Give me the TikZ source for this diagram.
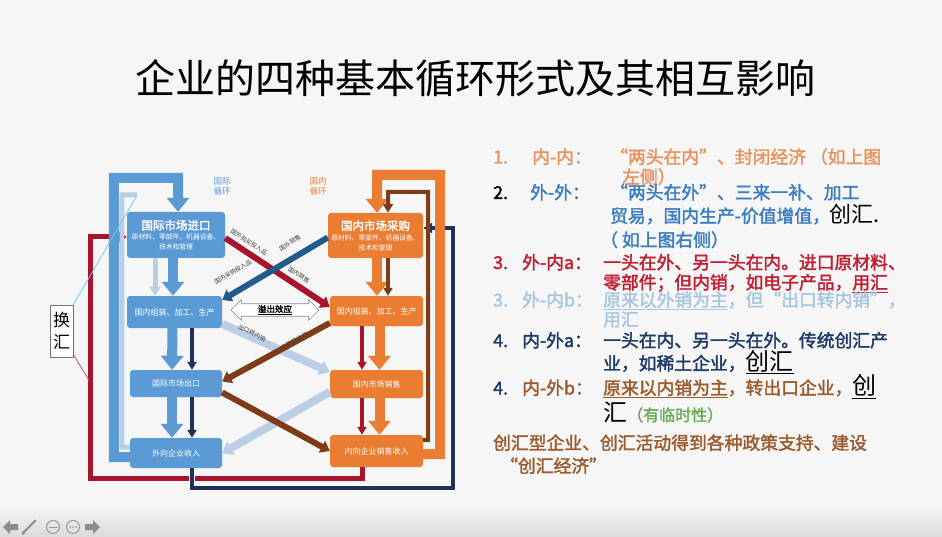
\documentclass[tikz,border=0pt]{standalone}
\usepackage{fontspec}
\setmainfont{Noto Sans CJK SC}
\newfontfamily\bcjk[FakeBold=2]{Noto Sans CJK SC}
\usetikzlibrary{arrows.meta,shapes.arrows}
\makeatletter\providecommand\tikzscope@linewidth{0.4pt}\makeatother
\definecolor{bbox}{HTML}{5B9BD5}
\definecolor{obox}{HTML}{EB7D33}
\definecolor{lite}{HTML}{BACFE3}
\definecolor{navy}{HTML}{1F2F5E}
\definecolor{dblue}{HTML}{215A8C}
\definecolor{dred}{HTML}{A8142B}
\definecolor{brn}{HTML}{7E3B17}
\definecolor{tor}{HTML}{E8935E}
\definecolor{tbl}{HTML}{3C7DC0}
\definecolor{tre}{HTML}{C21E32}
\definecolor{tlb}{HTML}{A9C6DF}
\definecolor{tnv}{HTML}{1F3A68}
\definecolor{tbr}{HTML}{9C5B2E}
\definecolor{tgr}{HTML}{6BAA55}
\definecolor{bg}{HTML}{F6F6F6}
\tikzset{
  bluebox/.style={fill=bbox, rounded corners=3pt, text=white, align=center, inner sep=0pt, font=\fontsize{8}{10}\selectfont},
  orbox/.style={fill=obox, rounded corners=3pt, text=white, align=center, inner sep=0pt, font=\fontsize{8}{10}\selectfont},
  bigarrow/.style={line width=10pt, -{Triangle[width=22pt,length=14pt]}},
  midarrow/.style={line width=6pt, -{Triangle[width=13pt,length=9pt]}},
  thinarrow/.style={line width=3.5pt, -{Triangle[width=9pt,length=8pt]}},
  dlabel/.style={font=\fontsize{6}{7}\selectfont, text=black!75, inner sep=0pt},
  rtxt/.style={anchor=base west, inner sep=0pt, font=\bcjk\fontsize{17.8}{20}\selectfont},
}
\begin{document}
\begin{tikzpicture}[x=1pt,y=-1pt]
\useasboundingbox (0,0) rectangle (942,537);
\fill[bg] (0,0) rectangle (942,537);
\shade[top color=bg, bottom color=black!14] (0,505) rectangle (942,537);

% title
\node[inner sep=0pt, font=\fontsize{40}{44}\selectfont] (title) at (475,78) {企业的四种基本循环形式及其相互影响};

% boxes
\node[bluebox, minimum width=98pt, minimum height=46pt] (A1) at (176,235)
  {{\bcjk\fontsize{11.5}{13}\selectfont 国际市场进口}\\{\fontsize{6.8}{8}\selectfont 原材料、零部件、机器设备、}\\{\fontsize{6.8}{8}\selectfont 技术和管理}};
\node[bluebox, minimum width=95pt, minimum height=32pt] (A2) at (174.5,312) {国内组装、加工、生产};
\node[bluebox, minimum width=92pt, minimum height=27pt] (A3) at (176,383.5) {国际市场出口};
\node[bluebox, minimum width=92pt, minimum height=30pt] (A4) at (176,453) {外向企业收入};
\node[orbox, minimum width=95pt, minimum height=45pt] (B1) at (375.5,235.5)
  {{\bcjk\fontsize{11.5}{13}\selectfont 国内市场采购}\\{\fontsize{6.8}{8}\selectfont 原材料、零部件、机器设备、}\\{\fontsize{6.8}{8}\selectfont 技术和管理}};
\node[orbox, minimum width=93pt, minimum height=30pt] (B2) at (376.5,311) {国内组装、加工、生产};
\node[orbox, minimum width=93pt, minimum height=28pt] (B3) at (376.5,384) {国内市场销售};
\node[orbox, minimum width=93pt, minimum height=32pt] (B4) at (376.5,451) {内向企业销售收入};

% cycle labels
\node[align=center, text=bbox, font=\fontsize{8.5}{10}\selectfont, inner sep=0pt] (lg1) at (222,186) {国际\\循环};
\node[align=center, text=obox, font=\fontsize{8.5}{10}\selectfont, inner sep=0pt] (lg2) at (318,186) {国内\\循环};

% outer red loop
\draw[dred, line width=5pt, -{Triangle[width=12pt,length=9pt]}] ([xshift=-14.5pt]B4.south) -- ++(0,11) -| (90,237) -- ([yshift=-2pt]A1.west);
% outer navy loop
\draw[white, line width=6pt] ([xshift=16pt]A4.south) -- ++(0,20) -| (453,228) -- ([yshift=7.5pt]B1.east);
\draw[navy, line width=3.5pt, -{Triangle[width=10pt,length=9pt]}] ([xshift=16pt]A4.south) -- ++(0,20) -| (453,228) -- ([yshift=7.5pt]B1.east);

% blue big loop
\draw[bbox, bigarrow] ([yshift=-4pt]A4.west) -- ++(-16,0) -- (114,178) -- (178,178) -- ([xshift=2pt]A1.north);
\draw[lite, line width=5pt] ([yshift=6pt]A4.west) -- ++(-8,0) -- (122,195) -- (137,195);
% orange big loop
\draw[obox, bigarrow] ([yshift=-3pt]B4.east) -- ++(17,0) -- (440,175) -- (377,175) -- ([xshift=1.5pt]B1.north);
% brown loop
\draw[brn, line width=4pt, -{Triangle[width=10pt,length=9pt]}] ([yshift=11pt]B4.east) -- ++(5,0) -- (428,192) -- (388,192) -- ([xshift=12.5pt]B1.north);

% vertical arrows blue column
\draw[lite, line width=5pt, -{Triangle[width=11pt,length=9pt]}] ([xshift=-21pt]A1.south) -- ([xshift=-19.5pt]A2.north);
\draw[bbox, bigarrow] ([xshift=-3pt]A1.south) -- ([xshift=-1.5pt]A2.north);
\draw[bbox, bigarrow] ([xshift=-2pt]A2.south) -- ([xshift=-4pt]A3.north);
\draw[bbox, bigarrow] ([xshift=-4pt]A3.south) -- ([xshift=-4pt]A4.north);
\draw[navy, thinarrow] ([xshift=17.5pt]A2.south) -- ([xshift=16pt]A3.north);
\draw[navy, thinarrow] ([xshift=16pt]A3.south) -- ([xshift=16pt]A4.north);

% vertical arrows orange column
\draw[obox, bigarrow] ([xshift=1.5pt]B1.south) -- ([xshift=0.5pt]B2.north);
\draw[brn, thinarrow, line width=4pt] ([xshift=12.5pt]B1.south) -- ([xshift=11.5pt]B2.north);
\draw[obox, bigarrow] ([xshift=3pt]B2.south) -- ([xshift=3pt]B3.north);
\draw[obox, bigarrow] ([xshift=3pt]B3.south) -- ([xshift=3pt]B4.north);
\draw[dred, thinarrow] ([xshift=-14.5pt]B2.south) -- ([xshift=-14.5pt]B3.north);
\draw[dred, thinarrow] ([xshift=-14.5pt]B3.south) -- ([xshift=-14.5pt]B4.north);

% diagonals
\draw[lite, line width=8pt, -{Triangle[width=15pt,length=10pt]}] ([yshift=-12pt]A2.east) -- ([yshift=12pt]B3.west);
\draw[lite, line width=8pt, -{Triangle[width=15pt,length=10pt]}] ([yshift=-8pt]B3.west) -- (A4.east);
\draw[dred, midarrow] ([yshift=-3pt]A1.east) -- ([yshift=4pt]B2.west);
\draw[dblue, midarrow] ([yshift=-2pt]B1.west) -- ([yshift=12pt]A2.east);
\draw[brn, midarrow] ([yshift=-12pt]B2.west) -- ([yshift=2pt]A3.east);
\draw[brn, midarrow] ([yshift=-9pt]A3.east) -- (B4.west);

% diagonal labels
\node[dlabel, rotate=-33] (l1) at (249,242) {国外购买投入品};
\node[dlabel, rotate=-33] (l2) at (299,275) {国内销售};
\node[dlabel, rotate=31] (l3) at (290,243) {国外销售};
\node[dlabel, rotate=31] (l4) at (233,272) {国内采购投入品};
\node[dlabel, rotate=-27] (l5) at (252,333) {出口转内销};
\node[dlabel, rotate=28] (l6) at (294,341) {内销转出口};

% spillover double arrow
\node[double arrow, draw=black!45, fill=white, line width=0.6pt, minimum height=88pt, minimum width=13pt,
  double arrow head extend=4pt, inner sep=1pt, font=\bcjk\fontsize{8.5}{9}\selectfont] (sp) at (275,310) {\underline{溢出效应}};

% 换汇 box
\node[draw=black!55, fill=white, line width=0.8pt, align=center, inner sep=2pt, minimum width=23pt, minimum height=52pt,
  font=\fontsize{17}{22}\selectfont] (hh) at (61.5,331) {换\\汇};
\coordinate (cyend) at (136,197);
\coordinate (rdot) at (90,382);
\draw[cyan!60!white, line width=0.8pt] (hh.north east) -- (cyend);
\draw[dred!80, line width=0.7pt] ([yshift=3pt]hh.south east) -- (rdot);
\fill[dred] (rdot) circle (2pt);

% right text
\node[rtxt, text=tor] (n1) at (493,163.5) {1.};
\node[rtxt, text=tor] (k1) at (532,163.5) {内-内：};
\node[rtxt, text=tor] (t1) at (610,163.5) {“两头在内”、封闭经济 （如上图};
\node[rtxt, text=tor] (t1b) at (622,183.5) {左侧）};

\node[rtxt, text=black] (n2) at (493,199) {2.};
\node[rtxt, text=tbl] (k2) at (530,199) {外-外：};
\node[rtxt, text=tbl] (t2) at (610,199) {“两头在外”、三来一补、加工};
\node[rtxt, text=tbl] (t2b) at (610,222.5) {贸易，国内生产-价值增值，{\fontspec{Noto Sans CJK SC}\fontsize{22}{24}\selectfont\color{black}创汇.}};
\node[rtxt, text=tbl] (t2c) at (600,246.5) {（ 如上图右侧）};

\node[rtxt, text=tre] (n3) at (493,269) {3.};
\node[rtxt, text=tre] (k3) at (522,269) {外-内a：};
\node[rtxt, text=tre] (t3) at (603,269) {一头在外、另一头在内。进口原材料、};
\node[rtxt, text=tre] (t3b) at (603,289) {零部件；但内销，如电子产品，\underline{用汇}};

\node[rtxt, text=tlb] (n4) at (493,306.5) {3.};
\node[rtxt, text=tlb] (k4) at (522,306.5) {外-内b：};
\node[rtxt, text=tlb] (t4) at (603,306.5) {\underline{原来以外销为主}，但“出口转内销”，};
\node[rtxt, text=tlb] (t4b) at (603,326) {用汇};

\node[rtxt, text=tnv] (n5) at (493,347) {4.};
\node[rtxt, text=tnv] (k5) at (522,347) {内-外a：};
\node[rtxt, text=tnv] (t5) at (603,347) {一头在内、另一头在外。传统创汇产};
\node[rtxt, text=tnv] (t5b) at (603,370) {业，如稀土企业，{\fontspec{Noto Sans CJK SC}\fontsize{24}{26}\selectfont\color{black}\underline{创汇}}};

\node[rtxt, text=tnv] (n6) at (493,394.5) {4.};
\node[rtxt, text=tbr] (k6) at (522,394.5) {内-外b：};
\node[rtxt, text=tbr] (t6) at (603,394.5) {\underline{原来以内销为主}，转出口企业，{\fontspec{Noto Sans CJK SC}\fontsize{24}{26}\selectfont\color{black}\underline{创}}};
\node[rtxt, text=black] (t6b) at (603,421) {{\fontspec{Noto Sans CJK SC}\fontsize{24}{26}\selectfont 汇}{\color{tgr}\fontsize{16}{18}\selectfont（有临时性）}};

\node[rtxt, text=tbr] (t7) at (493,449.5) {创汇型企业、创汇活动得到各种政策支持、建设};
\node[rtxt, text=tbr] (t7b) at (500,472.5) {“创汇经济”};

% toolbar icons
\fill[black!45] (3,527) -- (10,520) -- (10,524) -- (18,524) -- (18,530) -- (10,530) -- (10,534) -- cycle;
\draw[black!45, line width=2pt] (23,533) -- (36,520);
\fill[black!45] (22,535) -- (22.5,531) -- (25,533.5) -- cycle;
\draw[black!40, line width=1pt] (53,527) circle (6.5pt);
\draw[black!40, line width=0.8pt] (48.5,527) -- (57.5,527);
\draw[black!40, line width=1pt] (73,527) circle (6.5pt);
\fill[black!40] (70,527) circle (0.9pt) (73,527) circle (0.9pt) (76,527) circle (0.9pt);
\fill[black!45] (100,527) -- (93,520) -- (93,524) -- (85,524) -- (85,530) -- (93,530) -- (93,534) -- cycle;
\end{tikzpicture}
\end{document}
